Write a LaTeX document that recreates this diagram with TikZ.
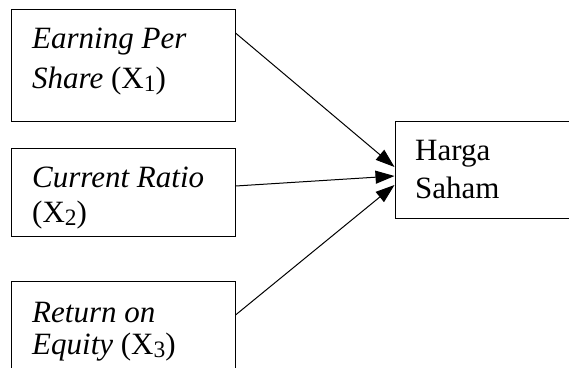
\documentclass[tikz,border=0pt]{standalone}
\usepackage{fontspec}
\setmainfont{Liberation Serif}
\usetikzlibrary{arrows.meta}
\newcommand{\sub}[1]{\raisebox{-3pt}{\fontsize{23.5pt}{24pt}\selectfont #1}}
\begin{document}
\begin{tikzpicture}[x=1pt,y=-1pt,
  boxnode/.style={draw=black,line width=1pt,rectangle,inner sep=0pt},
  txt/.style={anchor=base west,inner sep=0pt,font=\fontsize{31pt}{37pt}\selectfont},
  link/.style={line width=1pt,-{Triangle[length=19pt,width=13pt]}}]
\useasboundingbox (0,0) rectangle (569,367);
% input variables
\node[boxnode,minimum width=224pt,minimum height=112pt] (b1) at (123,65) {};
\node[boxnode,minimum width=224pt,minimum height=88pt] (b2) at (123,192) {};
\node[boxnode,minimum width=224pt,minimum height=130pt] (b3) at (123,346) {};
% dependent variable
\node[boxnode,minimum width=220pt,minimum height=97pt] (y) at (505,169.5) {};
% labels
\node[txt] (t1a) at (32,48) {\itshape Earning Per};
\node[txt] (t1b) at (32,88) {\itshape Share \upshape(X\sub{1})};
\node[txt] (t2a) at (32,187) {\itshape Current Ratio};
\node[txt] (t2b) at (32,222) {(X\sub{2})};
\node[txt] (t3a) at (32,322) {\itshape Return on};
\node[txt] (t3b) at (32,354) {\itshape Equity \upshape(X\sub{3})};
\node[txt] (tya) at (415,160) {Harga};
\node[txt] (tyb) at (415,198) {Saham};
% arrow attachment points
\coordinate (s1) at (b1.east |- 0,33);
\coordinate (s2) at (b2.east |- 0,186);
\coordinate (s3) at (b3.east |- 0,315);
\coordinate (e1) at (y.west |- 0,167);
\coordinate (e2) at (y.west |- 0,176);
\coordinate (e3) at (y.west |- 0,185);
\draw[link] (s1) -- (e1);
\draw[link] (s2) -- (e2);
\draw[link] (s3) -- (e3);
\end{tikzpicture}
\end{document}
